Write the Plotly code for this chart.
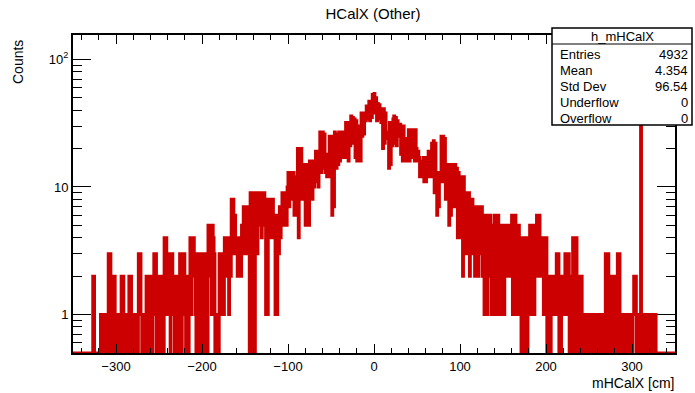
import numpy as np
import plotly.graph_objects as go

# histogram h_mHCalX : 700 bins of 1 cm from -350 to 350
x_min, x_max, n_bins = -350, 350, 700

counts_left = [
    0, 0, 0, 0, 0, 0, 0, 0, 0, 0,
    0, 0, 0, 0, 0, 0, 0, 0, 0, 0,
    0, 0, 0, 2, 2, 0, 0, 0, 0, 0,
    0, 0, 1, 0, 1, 1, 0, 1, 0, 1,
    0, 3, 1, 3, 0, 2, 2, 0, 2, 1,
    1, 0, 1, 0, 1, 1, 2, 0, 2, 1,
    0, 1, 0, 0, 1, 2, 0, 2, 1, 0,
    1, 0, 1, 0, 1, 0, 3, 1, 3, 1,
    0, 1, 0, 1, 0, 2, 1, 2, 0, 2,
    1, 2, 0, 2, 3, 1, 3, 0, 2, 1,
    2, 0, 1, 2, 1, 0, 4, 2, 4, 1,
    3, 1, 3, 0, 2, 3, 1, 2, 0, 2,
    1, 2, 0, 2, 3, 1, 0, 3, 1, 3,
    2, 0, 2, 1, 0, 1, 4, 1, 4, 2,
    4, 2, 1, 0, 3, 1, 3, 0, 0, 0,
    3, 1, 0, 3, 2, 1, 0, 5, 2, 5,
    4, 1, 5, 4, 3, 0, 0, 0, 1, 0,
    3, 1, 3, 2, 3, 1, 4, 2, 4, 3,
    4, 1, 4, 2, 8, 3, 8, 4, 6, 3,
    4, 2, 4, 2, 4, 2, 5, 3, 7, 4,
    7, 3, 7, 4, 6, 0, 9, 0, 9, 0,
    9, 0, 9, 6, 3, 6, 9, 5, 9, 4,
    9, 5, 9, 8, 1, 8, 1, 8, 4, 8,
    8, 4, 8, 5, 6, 1, 6, 1, 6, 3,
    7, 4, 6, 9, 5, 9, 6, 9, 5, 10,
]
counts_core = [
    13, 7, 12, 9, 13, 8, 13, 6, 12, 7,
    6, 20, 4, 19, 12, 20, 8, 15, 9, 14,
    5, 15, 7, 14, 5, 16, 9, 16, 8, 15,
    10, 16, 19, 11, 18, 10, 19, 27, 13, 24,
    27, 14, 26, 13, 18, 12, 17, 12, 25, 14,
    24, 6, 25, 7, 27, 20, 14, 26, 15, 27,
    16, 23, 17, 27, 20, 26, 17, 32, 18, 31,
    16, 32, 21, 36, 24, 35, 22, 34, 17, 33,
    16, 30, 17, 29, 16, 38, 25, 37, 26, 38,
    33, 43, 34, 42, 47, 33, 46, 35, 53, 41,
    54, 38, 50, 33, 45, 34, 44, 41, 32, 40,
    20, 41, 22, 38, 27, 24, 26, 14, 32, 15,
    31, 21, 34, 36, 22, 35, 21, 33, 30, 25,
    31, 18, 29, 16, 30, 17, 24, 16, 23, 17,
    28, 16, 27, 18, 28, 17, 26, 16, 28, 20,
    16, 19, 17, 12, 16, 13, 12, 17, 11, 16,
    11, 17, 12, 19, 13, 18, 12, 22, 14, 23,
    9, 22, 13, 6, 12, 7, 13, 11, 25, 12,
    25, 11, 24, 8, 13, 9, 15, 5, 15, 6,
    15, 7, 15, 9, 15, 7, 14, 4, 13, 6,
]
counts_right = [
    12, 4, 10, 2, 12, 6, 9, 3, 8, 5,
    9, 2, 6, 4, 8, 3, 7, 2, 6, 3,
    7, 2, 5, 7, 3, 7, 2, 6, 1, 4,
    6, 1, 5, 6, 2, 6, 1, 4, 1, 5,
    6, 1, 5, 2, 6, 1, 5, 1, 4, 1,
    5, 1, 3, 2, 5, 2, 4, 2, 5, 2,
    6, 1, 5, 2, 6, 1, 4, 1, 5, 1,
    4, 0, 3, 0, 4, 1, 0, 4, 0, 2,
    3, 5, 1, 5, 2, 4, 1, 5, 2, 6,
    6, 2, 6, 3, 4, 2, 4, 1, 4, 2,
    4, 0, 1, 0, 2, 0, 2, 1, 2, 1,
    2, 1, 3, 1, 3, 0, 2, 0, 2, 1,
    2, 1, 3, 1, 3, 1, 3, 0, 1, 0,
    2, 4, 0, 4, 1, 4, 0, 2, 1, 2,
    0, 2, 1, 0, 1, 0, 1, 1, 0, 1,
    0, 1, 0, 1, 1, 0, 1, 0, 1, 0,
    1, 1, 0, 1, 0, 1, 0, 1, 0, 3,
    3, 0, 3, 1, 0, 2, 0, 2, 1, 0,
    2, 0, 1, 3, 0, 3, 1, 0, 1, 0,
    1, 0, 1, 0, 1, 1, 0, 1, 0, 1,
    0, 1, 2, 1, 2, 0, 1, 0, 1, 0,
    77, 1, 0, 1, 0, 1, 1, 0, 1, 0,
    1, 0, 1, 1, 0, 1, 0, 1, 0, 0,
    0, 0, 0, 0, 0, 0, 0, 0, 0, 0,
    0, 0, 0, 0, 0, 0, 0, 0, 0, 0,
]
counts = counts_left + counts_core + counts_right

stats_labels = ["Entries", "Mean", "Std Dev", "Underflow", "Overflow"]
stats_values = ["4932", "4.354", "96.54", "0", "0"]

y_floor, y_top = 0.5, 155
edges = np.linspace(x_min, x_max, n_bins + 1)
# empty bins are drawn on the frame bottom, like ROOT does on a log pad
y_draw = [c if c > 0 else y_floor for c in counts]
y_draw = y_draw + [y_draw[-1]]

font = "Liberation Sans, Arial, sans-serif"
fig = go.Figure()
fig.add_trace(go.Scatter(x=edges, y=y_draw, mode="lines",
                         line=dict(shape="hv", color="#cc0000", width=3),
                         hoverinfo="skip", showlegend=False))

# frame sits at x 73..675, y 35..353 of the 695x393 canvas
W, H = 695, 393
L, T, FR, FB = 73, 35, 675, 353
pw, ph = FR - L, FB - T
px = lambda x: (x - L) / pw
py = lambda y: (FB - y) / ph

y_minor = [v * d for d in (0.1, 1, 10) for v in range(2, 10) if y_floor <= v * d <= y_top]

fig.update_layout(
    width=W, height=H,
    margin=dict(l=L, r=W - FR, t=T, b=H - FB, autoexpand=False),
    paper_bgcolor="white", plot_bgcolor="white",
    font=dict(family=font, size=13, color="black"),
    title=dict(text="HCalX (Other)", xref="paper", x=px(373), xanchor="center",
               yref="container", y=1 - 14 / H, yanchor="middle",
               font=dict(size=15)),
    xaxis=dict(range=[x_min, x_max], showgrid=False, zeroline=False,
               showline=True, linecolor="black", linewidth=2, mirror="ticks",
               ticks="inside", ticklen=9, tickwidth=1, tickcolor="black",
               tick0=0, dtick=100,
               minor=dict(ticks="inside", ticklen=5, tickwidth=1, tickcolor="black",
                          tick0=0, dtick=20)),
    yaxis=dict(type="log", range=[np.log10(y_floor), np.log10(y_top)],
               showgrid=False, zeroline=False,
               showline=True, linecolor="black", linewidth=2, mirror="ticks",
               ticks="inside", ticklen=18, tickwidth=1, tickcolor="black",
               tickmode="array", tickvals=[1, 10, 100],
               ticktext=["1", "10", "10<sup>2</sup>"],
               minor=dict(ticks="inside", ticklen=9, tickwidth=1, tickcolor="black",
                          tickmode="array", tickvals=y_minor)),
)

# axis titles, ROOT puts them at the far ends
fig.add_annotation(text="Counts", xref="paper", yref="paper", x=px(18), y=py(38),
                   xanchor="center", yanchor="top", textangle=-90,
                   showarrow=False, font=dict(size=14))
fig.add_annotation(text="mHCalX [cm]", xref="paper", yref="paper", x=px(676), y=py(383),
                   xanchor="right", yanchor="middle", showarrow=False, font=dict(size=14))

# stats box
bx0, bx1, by0, by1, hy = 552, 692, 28, 125, 44
fig.add_shape(type="rect", xref="paper", yref="paper",
              x0=px(bx0), x1=px(bx1), y0=py(by1), y1=py(by0),
              line=dict(color="black", width=1.5), fillcolor="white", layer="above")
fig.add_shape(type="line", xref="paper", yref="paper",
              x0=px(bx0), x1=px(bx1), y0=py(hy), y1=py(hy),
              line=dict(color="black", width=1), layer="above")
fig.add_annotation(text="h_mHCalX", xref="paper", yref="paper",
                   x=px((bx0 + bx1) / 2), y=py(36), xanchor="center", yanchor="middle",
                   showarrow=False, font=dict(size=13))
row_y = [54, 70.5, 87, 103, 118.5]
for lab, val, yy in zip(stats_labels, stats_values, row_y):
    fig.add_annotation(text=lab, xref="paper", yref="paper", x=px(558), y=py(yy),
                       xanchor="left", yanchor="middle", showarrow=False, font=dict(size=13))
    fig.add_annotation(text=val, xref="paper", yref="paper", x=px(690), y=py(yy),
                       xanchor="right", yanchor="middle", showarrow=False, font=dict(size=13))

# the page body margin would otherwise push the 695x393 figure off the window
fig.write_html("out.html", config={"displayModeBar": False},
               post_script="document.body.style.margin='0px';")
